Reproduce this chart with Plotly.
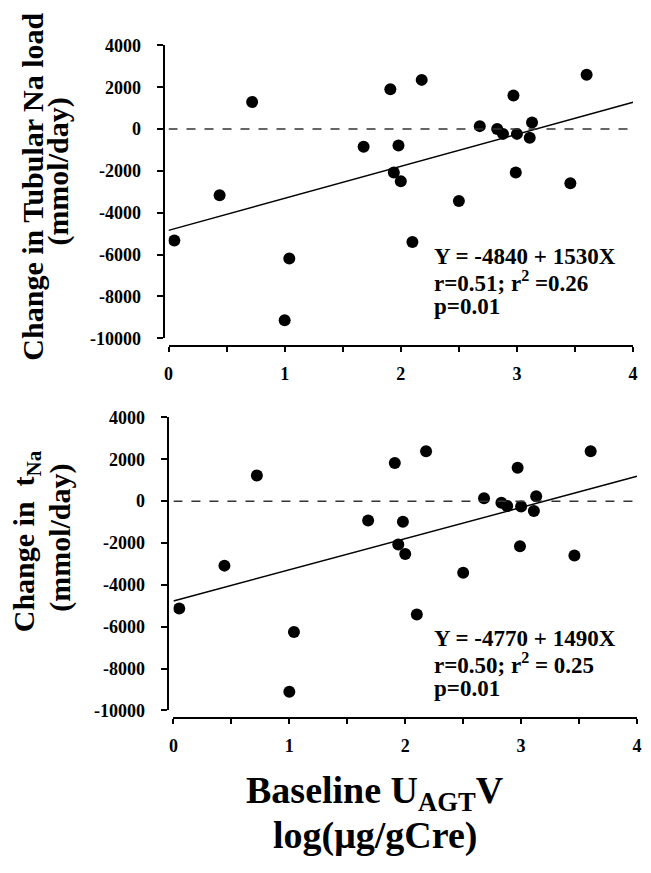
import plotly.graph_objects as go

# ---------------- data ----------------
baseline_uagtv = [0.05, 0.44, 0.72, 1.04, 1.00, 1.68, 1.91, 2.18, 1.98, 1.94, 2.00,
                  2.50, 2.10, 2.68, 2.83, 2.88, 3.00, 3.13, 3.11, 2.97, 2.99, 3.46, 3.60]
change_tubular_na_load = [-5330, -3160, 1290, -6190, -9130, -850, 1900, 2350, -780, -2070, -2490,
                          -3440, -5400, 140, 0, -230, -230, 310, -420, 1600, -2070, -2590, 2600]
change_tna = [-5130, -3080, 1230, -6250, -9110, -920, 1820, 2380, -980, -2070, -2520,
              -3420, -5410, 140, -80, -230, -250, 230, -470, 1600, -2150, -2600, 2380]

fit_top = {"intercept": -4840, "slope": 1530}
fit_bottom = {"intercept": -4770, "slope": 1490}
fit_x = [0, 4]

x_ticks = [0, 0.5, 1, 1.5, 2, 2.5, 3, 3.5, 4]
x_ticktext = ["0", "", "1", "", "2", "", "3", "", "4"]
y_ticks = [4000, 2000, 0, -2000, -4000, -6000, -8000, -10000]
y_ticktext = ["4000", "2000", "0", "-2000", "-4000", "-6000", "-8000", "-10000"]

stats_top = ["Y = -4840 + 1530X", "r=0.51; r<sup>2</sup> =0.26", "p=0.01"]
stats_bottom = ["Y = -4770 + 1490X", "r=0.50; r<sup>2</sup> = 0.25", "p=0.01"]

# ---------------- layout helpers ----------------
PAGE_W, PAGE_H = 651, 873
OFF = 8  # default body margin of the html page
W, H = PAGE_W - 2 * OFF, PAGE_H - 2 * OFF
FONT = "Liberation Serif"


def fx(px):
    return (px - OFF) / W


def fy(py):
    return 1 - (py - OFF) / H


fig = go.Figure()

# top panel
fig.add_trace(go.Scatter(x=baseline_uagtv, y=change_tubular_na_load, mode="markers",
                         marker=dict(color="black", size=12), xaxis="x", yaxis="y",
                         showlegend=False))
fig.add_trace(go.Scatter(x=fit_x, y=[fit_top["intercept"] + fit_top["slope"] * v for v in fit_x],
                         mode="lines", line=dict(color="black", width=1.5), xaxis="x", yaxis="y",
                         showlegend=False))
# bottom panel
fig.add_trace(go.Scatter(x=baseline_uagtv, y=change_tna, mode="markers",
                         marker=dict(color="black", size=12), xaxis="x2", yaxis="y2",
                         showlegend=False))
fig.add_trace(go.Scatter(x=fit_x, y=[fit_bottom["intercept"] + fit_bottom["slope"] * v for v in fit_x],
                         mode="lines", line=dict(color="black", width=1.5), xaxis="x2", yaxis="y2",
                         showlegend=False))

tickfont = dict(family=FONT, size=18, color="black", weight="bold")


def xaxis_cfg(dom, pos):
    return dict(domain=dom, range=[0, 4], anchor="free", position=pos,
                showline=True, linecolor="black", linewidth=2, ticks="outside", ticklen=5,
                tickwidth=2, tickcolor="black", tickvals=x_ticks, ticktext=x_ticktext,
                tickfont=tickfont, showgrid=False, zeroline=False, ticklabelstandoff=6,
                ticklabeloverflow="allow")


def yaxis_cfg(dom, pos):
    return dict(domain=dom, range=[-10000, 4000], anchor="free", position=pos,
                showline=True, linecolor="black", linewidth=2, ticks="outside", ticklen=6,
                tickwidth=2, tickcolor="black", tickvals=y_ticks, ticktext=y_ticktext,
                tickfont=tickfont, showgrid=False, zeroline=False, ticklabelstandoff=12,
                ticklabeloverflow="allow")


fig.update_layout(
    width=W, height=H, margin=dict(l=0, r=0, t=0, b=0),
    paper_bgcolor="white", plot_bgcolor="white",
    xaxis=xaxis_cfg([fx(166), fx(638)], fy(344)),
    yaxis=yaxis_cfg([fy(336), fy(36)], fx(161)),
    xaxis2=xaxis_cfg([fx(171), fx(642)], fy(725)),
    yaxis2=yaxis_cfg([fy(717), fy(417)], fx(165)),
)

# dashed zero reference lines
fig.add_shape(type="line", xref="x", yref="y", x0=0, x1=4, y0=0, y1=0,
              line=dict(color="#333333", width=1.5, dash="dash"))
fig.add_shape(type="line", xref="x2", yref="y2", x0=0, x1=4, y0=0, y1=0,
              line=dict(color="#333333", width=1.5, dash="dash"))


def ann(text, px, py, size, angle=0, xanchor="center"):
    fig.add_annotation(text=text, x=fx(px), y=fy(py), xref="paper", yref="paper",
                       showarrow=False, textangle=angle, xanchor=xanchor, yanchor="middle",
                       font=dict(family=FONT, size=size, color="black", weight="bold"))


# stats text
for t, py in zip(stats_top, [252, 277.5, 303]):
    ann(t, 434, py, 23, xanchor="left")
for t, py in zip(stats_bottom, [643, 669, 695]):
    ann(t, 434, py, 23, xanchor="left")

# y titles
ann("Change in Tubular Na load", 28, 181, 30, angle=-90)
ann("(mmol/day)", 54, 165, 30, angle=-90)
ann("Change in \u00a0t<sub>Na</sub>", 22, 544, 30, angle=-90)
ann("(mmol/day)", 55, 540, 30, angle=-90)

# x title
ann("Baseline U<sub>AGT</sub>V", 376, 802, 38)
ann("log(\u03bcg/gCre)", 376, 845, 38)

fig.write_html("out.html")
